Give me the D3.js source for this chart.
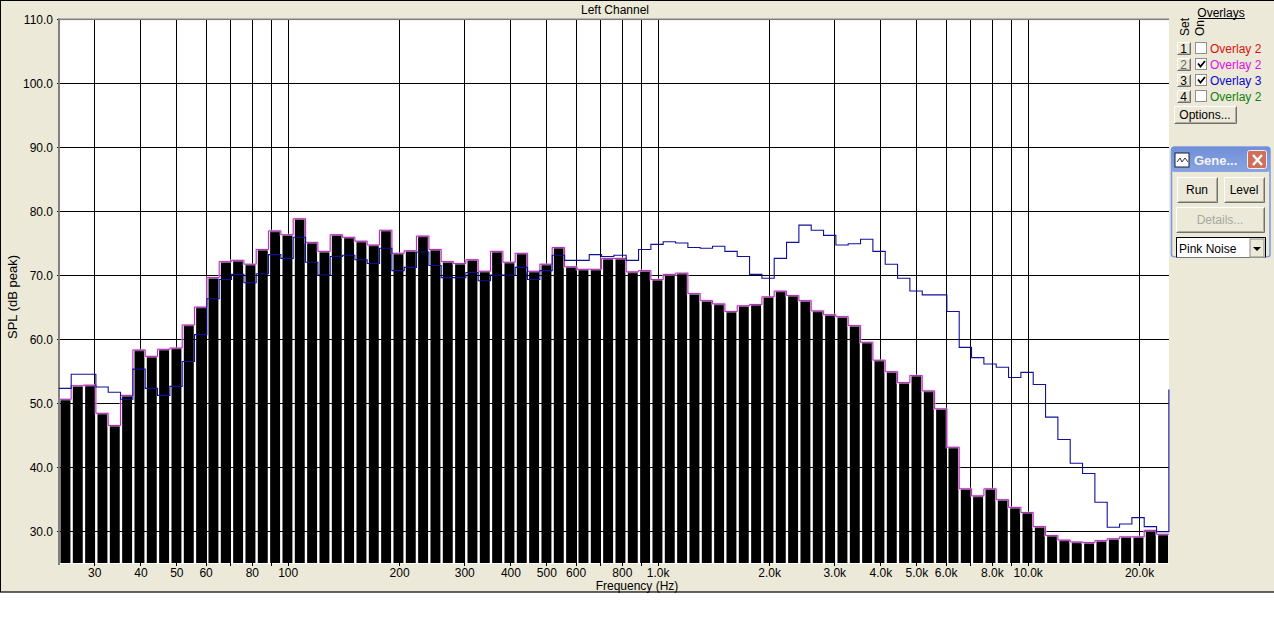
<!DOCTYPE html>
<html><head><meta charset="utf-8">
<script src="https://cdn.jsdelivr.net/npm/d3@7/dist/d3.min.js"></script>
<style>
html,body{margin:0;padding:0;background:#fff;overflow:hidden}
svg{display:block}
text{font-family:"Liberation Sans",Arial,sans-serif;font-size:12px;fill:#000}
</style></head><body>
<svg id="c" width="1274" height="637"></svg>
<script>
const levelLeft=[50.7,52.8,52.9,48.5,46.6,51.3,58.4,57.4,58.5,58.7,62.3,65.1,69.7,72.2,72.4,71.8,74.1,77.0,76.4,78.9,75.2,73.8,76.4,76.0,75.4,74.8,77.1,73.5,73.9,76.2,74.1,72.2,71.9,72.5,70.7,73.8,72.1,73.5,70.7,71.8,74.4,71.4,71.0,71.0,72.7,72.7,70.6,70.8,69.4,70.2,70.4,67.2,66.1,65.6,64.4,65.3,65.5,66.7,67.6,66.9,66.1,64.5,63.9,63.6,62.2,59.6,56.8,55.0,53.3,54.4,52.0,49.2,43.2,36.7,35.6,36.7,35.0,33.8,33.0,30.8,29.4,28.7,28.4,28.3,28.6,28.9,29.2,29.2,30.2,29.6];
const overlay3=[52.4,54.6,54.6,52.6,51.8,50.7,55.4,52.4,51.3,52.7,56.6,60.8,66.4,69.4,70.2,68.9,70.3,73.3,72.7,76.0,72.1,70.1,73.0,73.2,72.5,71.9,74.3,70.8,71.3,73.7,71.6,69.7,69.7,70.5,69.2,70.1,70.1,71.3,69.4,70.8,73.2,72.4,72.4,73.3,73.0,73.2,72.4,74.1,74.9,75.3,75.1,74.4,74.3,74.6,73.8,73.0,70.2,69.6,72.7,75.2,77.9,77.1,76.3,74.8,75.0,75.7,73.8,71.8,69.6,67.6,67.0,67.0,64.4,58.8,57.2,56.2,55.7,54.1,54.9,53.0,47.9,44.4,40.7,39.1,34.6,30.7,31.2,32.2,30.8,30.0];
const overlayEnd=52.2;
const yTicks=[110,100,90,80,70,60,50,40,30];
const xTicks=[30,40,50,60,70,80,90,100,200,300,400,500,600,700,800,900,1000,2000,3000,4000,5000,6000,7000,8000,9000,10000,20000];
const xLabels={30:"30",40:"40",50:"50",60:"60",80:"80",100:"100",200:"200",300:"300",400:"400",500:"500",600:"600",800:"800",1000:"1.0k",2000:"2.0k",3000:"3.0k",4000:"4.0k",5000:"5.0k",6000:"6.0k",8000:"8.0k",10000:"10.0k",20000:"20.0k"};
const legendSets=["1","2","3","4"];
const legendNames=["Overlay 2","Overlay 2","Overlay 3","Overlay 2"];
const legendColors=["#d81010","#e010e0","#0808d0","#108010"];
const legendOn=[false,true,true,false];
const binsPerDecade=30, fStart=24.0;

const svg=d3.select("#c");
const BG="#ece9d8";
const L=59,R=1169,T=20,B=564;
const x=d3.scaleLog().domain([100,10000]).range([288.2,1028.2]);
const y=d3.scaleLinear().domain([30,110]).range([531.7,19.7]);
const edge=i=>fStart*Math.pow(10,i/binsPerDecade);

svg.append("rect").attr("width",1274).attr("height",637).attr("fill","#fff");
svg.append("rect").attr("width",1274).attr("height",592).attr("fill",BG);
svg.append("rect").attr("x",0).attr("y",591.4).attr("width",1274).attr("height",1.2).attr("fill","#000");
svg.append("rect").attr("x",0).attr("y",0).attr("width",1).attr("height",592).attr("fill","#000");
svg.append("rect").attr("x",0).attr("y",0).attr("width",1274).attr("height",1).attr("fill","#000");

svg.append("text").attr("x",615).attr("y",14).attr("text-anchor","middle").text("Left Channel");

svg.append("rect").attr("x",L).attr("y",T).attr("width",R-L).attr("height",B-T).attr("fill","#fff");
const grid=svg.append("g").attr("stroke","#000").attr("stroke-width",1).attr("shape-rendering","crispEdges");
grid.selectAll(".v").data(xTicks).join("line").attr("class","v")
  .attr("x1",d=>Math.floor(x(d))+.5).attr("x2",d=>Math.floor(x(d))+.5).attr("y1",T).attr("y2",B+2);
grid.selectAll(".h").data(yTicks).join("line").attr("class","h")
  .attr("y1",d=>Math.floor(y(d))+.5).attr("y2",d=>Math.floor(y(d))+.5).attr("x1",L-2).attr("x2",R);

svg.append("rect").attr("x",58).attr("y",18.5).attr("width",2).attr("height",B-18.5+1).attr("fill","#808080");
svg.append("rect").attr("x",58).attr("y",18.5).attr("width",R-58).attr("height",1.6).attr("fill","#808080");

const barX=i=>x(edge(i));
svg.append("g").selectAll("rect").data(levelLeft).join("rect")
  .attr("x",(d,i)=>barX(i)+1.6).attr("width",(d,i)=>barX(i+1)-barX(i)-2.4)
  .attr("y",d=>y(d)).attr("height",d=>563-y(d)).attr("fill","#000");

const step=(vals)=>{let p=[];vals.forEach((v,i)=>{p.push([barX(i),y(v)]);p.push([barX(i+1),y(v)]);});return p;};
const line=d3.line();
const p1=step(levelLeft);
svg.append("path").attr("d",line(p1)).attr("fill","none").attr("stroke","#f4c8f4").attr("stroke-width",2.6).attr("opacity",.55);
svg.append("path").attr("d",line(p1)).attr("fill","none").attr("stroke","#b030b8").attr("stroke-width",1);
const p3=step(overlay3);p3.push([barX(overlay3.length),y(overlayEnd)]);
svg.append("path").attr("d",line(p3)).attr("fill","none").attr("stroke","#10109a").attr("stroke-width",1.1);

svg.append("g").selectAll("text").data(yTicks).join("text").attr("x",53).attr("y",d=>Math.floor(y(d))+5).attr("text-anchor","end").text(d=>d.toFixed(1));
svg.append("g").selectAll("text").data(xTicks.filter(d=>xLabels[d])).join("text").attr("x",d=>x(d)).attr("y",577).attr("text-anchor","middle").text(d=>xLabels[d]);
svg.append("text").attr("x",637).attr("y",590).attr("text-anchor","middle").text("Frequency (Hz)");
svg.append("text").attr("transform","translate(17,297) rotate(-90)").attr("text-anchor","middle").style("font-size","13px").text("SPL (dB peak)");

const btn=(g,X,Y,W,H,label,col)=>{
  g.append("rect").attr("x",X+.5).attr("y",Y+.5).attr("width",W-1).attr("height",H-1).attr("fill",BG);
  g.append("path").attr("d",`M${X+.5},${Y+H-.5}V${Y+.5}H${X+W-.5}`).attr("fill","none").attr("stroke","#fff");
  g.append("path").attr("d",`M${X+W-.5},${Y+.5}V${Y+H-.5}H${X+.5}`).attr("fill","none").attr("stroke","#707070");
  g.append("path").attr("d",`M${X+W-1.5},${Y+1.5}V${Y+H-1.5}H${X+1.5}`).attr("fill","none").attr("stroke","#b0ad9f");
  g.append("text").attr("x",X+W/2-.5).attr("y",Y+H/2+4).attr("text-anchor","middle").style("fill",col||"#000").text(label);
};
const side=svg.append("g");
side.append("text").attr("x",1221).attr("y",17).attr("text-anchor","middle").text("Overlays");
side.append("line").attr("x1",1198).attr("x2",1245).attr("y1",18.5).attr("y2",18.5).attr("stroke","#000");
side.append("text").attr("transform","translate(1188.5,36) rotate(-90)").text("Set");
side.append("text").attr("transform","translate(1203.5,36) rotate(-90)").text("On");
legendSets.forEach((s,i)=>{
  const Y=42+16*i;
  btn(side,1177,Y,14,13,s,i==1?"#666":"#000");
  side.append("rect").attr("x",1195.5).attr("y",Y+.5).attr("width",11).attr("height",11).attr("fill","#fff").attr("stroke","#909090");
  if(legendOn[i]) side.append("path").attr("d",`M${1198},${Y+5.5}l2.5,3l4.5,-5.5`).attr("fill","none").attr("stroke","#000").attr("stroke-width",1.8);
  side.append("text").attr("x",1210).attr("y",Y+11).style("fill",legendColors[i]).text(legendNames[i]);
});
btn(side,1174,106,63,18,"Options...");

const grad=svg.append("defs").append("linearGradient").attr("id","tb").attr("x1",0).attr("x2",0).attr("y1",0).attr("y2",1);
grad.append("stop").attr("offset",0).attr("stop-color","#6f8fd8");
grad.append("stop").attr("offset",1).attr("stop-color","#8aa4e0");
const gen=svg.append("g");
gen.append("rect").attr("x",1171.5).attr("y",147).attr("width",98.5).attr("height",110).attr("rx",3).attr("fill",BG).attr("stroke","#7a96df").attr("stroke-width",1.5);
gen.append("rect").attr("x",1171.5).attr("y",147).attr("width",98.5).attr("height",25).attr("rx",3).attr("fill","url(#tb)");
gen.append("rect").attr("x",1175).attr("y",153).attr("width",14).attr("height",14).attr("fill","#fff").attr("stroke","#123");
gen.append("path").attr("d","M1177,162l3,-4l2,4l3,-4l3,4").attr("fill","none").attr("stroke","#333");
gen.append("text").attr("x",1194).attr("y",165).style("fill","#f4f4f4").style("font-weight","bold").style("font-size","13px").text("Gene...");
gen.append("rect").attr("x",1247.5).attr("y",150.5).attr("width",19).attr("height",18).attr("rx",2).attr("fill","#d0705a").attr("stroke","#eee");
gen.append("path").attr("d","M1253,155l9,10M1262,155l-9,10").attr("stroke","#fff").attr("stroke-width",2.4);
btn(gen,1177,177,41,26,"Run");
btn(gen,1224,177,41,26,"Level");
btn(gen,1176,207,89,26,"Details...","#a8a8a0");
gen.append("rect").attr("x",1176.5).attr("y",237.5).attr("width",89).attr("height",20).attr("fill","#fff").attr("stroke","#000");
gen.append("text").attr("x",1179).attr("y",253).text("Pink Noise");
gen.append("rect").attr("x",1250).attr("y",239).attr("width",14).attr("height",18).attr("fill",BG).attr("stroke","#888");
gen.append("path").attr("d","M1253,247h8l-4,4z").attr("fill","#000");
svg.append("rect").attr("x",1171).attr("y",257.5).attr("width",103).attr("height",6).attr("fill",BG);
</script>
</body></html>
